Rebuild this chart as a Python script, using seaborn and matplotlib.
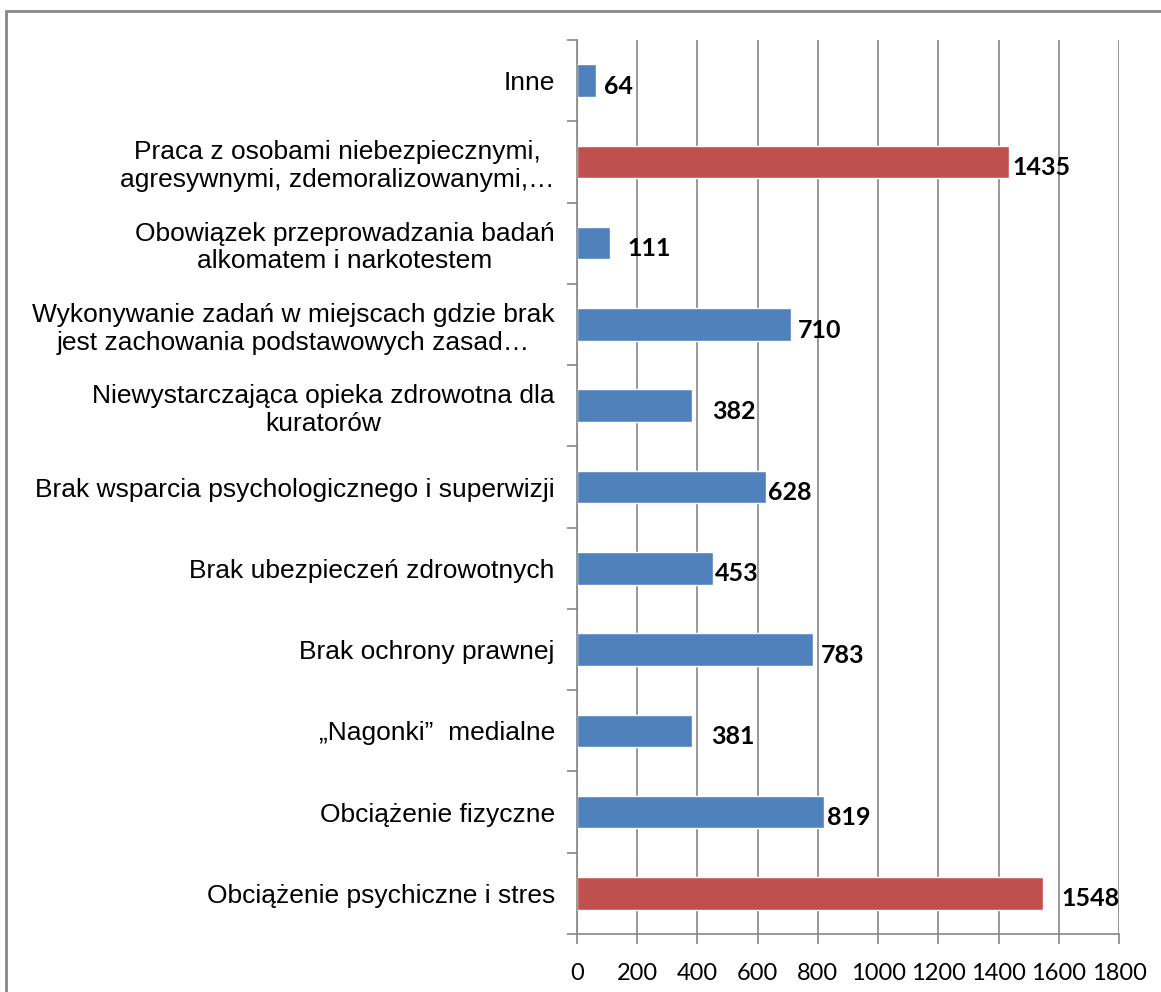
import matplotlib
matplotlib.use("Agg")
import matplotlib.pyplot as plt
import matplotlib.patches as mpatches
from matplotlib.ticker import MultipleLocator
import pandas as pd
import seaborn as sns

# dane (od gory do dolu)
kategorie = [
    "Inne",
    "Praca z osobami niebezpiecznymi,\nagresywnymi, zdemoralizowanymi,\u2026",
    "Obowiązek przeprowadzania badań\nalkomatem i narkotestem",
    "Wykonywanie zadań w miejscach gdzie brak\njest zachowania podstawowych zasad\u2026",
    "Niewystarczająca opieka zdrowotna dla\nkuratorów",
    "Brak wsparcia psychologicznego i superwizji",
    "Brak ubezpieczeń zdrowotnych",
    "Brak ochrony prawnej",
    "\u201eNagonki\u201d  medialne",
    "Obciążenie fizyczne",
    "Obciążenie psychiczne i stres",
]
wartosci = [64, 1435, 111, 710, 382, 628, 453, 783, 381, 819, 1548]
grupa = ["inne", "top", "inne", "inne", "inne", "inne", "inne", "inne", "inne", "inne", "top"]
x_ticks = [0, 200, 400, 600, 800, 1000, 1200, 1400, 1600, 1800]

# przesuniecia etykiet wartosci (px) - jak w oryginale z Excela
przesuniecia = [8, 3, 17, 7, 20, 2, 2, 8, 19, 3, 18]

df = pd.DataFrame({"kategoria": kategorie, "wartosc": wartosci, "grupa": grupa})
kolory = {"inne": "#4F81BD", "top": "#C0504D"}
szary = "#868686"

sns.set_theme(style="white")
plt.rcParams["font.family"] = ["Liberation Sans", "DejaVu Sans"]

fig = plt.figure(figsize=(11.61, 9.92), dpi=100)
ax = fig.add_axes([577 / 1161, 1 - 934 / 992, (1119 - 577) / 1161, (934 - 40) / 992])

sns.barplot(data=df, y="kategoria", x="wartosc", hue="grupa", palette=kolory,
            orient="h", width=0.4, dodge=False, legend=False, saturation=1, ax=ax)

ax.set_xlim(0, 1800)
ax.set_ylim(len(kategorie) - 0.5, -0.5)
ax.set_xlabel("")
ax.set_ylabel("")

# siatka pionowa
ax.set_xticks(x_ticks)
ax.set_xticklabels([str(t) for t in x_ticks], fontfamily="Lato", fontsize=17)
ax.grid(axis="x", color=szary, linewidth=1.2)
ax.set_axisbelow(True)

for s in ["top", "right"]:
    ax.spines[s].set_visible(False)
for s in ["left", "bottom"]:
    ax.spines[s].set_color(szary)
    ax.spines[s].set_linewidth(1.2)

ax.tick_params(axis="x", bottom=True, direction="out", length=7, color=szary,
               width=1.2, pad=14, labelcolor="black")
ax.tick_params(axis="y", which="major", left=True, length=0, pad=16, labelsize=19,
               labelcolor="black")
ax.yaxis.set_minor_locator(MultipleLocator(1, offset=0.5))
ax.tick_params(axis="y", which="minor", left=True, direction="out", length=7,
               color=szary, width=1.2)
for lab in ax.get_yticklabels():
    lab.set_multialignment("center")

# etykiety wartosci
for i, (v, dx) in enumerate(zip(wartosci, przesuniecia)):
    ax.annotate(str(v), xy=(v, i), xytext=(dx * 0.72, -4), textcoords="offset points",
                ha="left", va="center", fontfamily="Lato", fontweight="bold",
                fontsize=18, color="black")

# ramka wokol wykresu
ramka = mpatches.Rectangle((6 / 1161, -0.05), 1.2, 1 - 11 / 992 + 0.05,
                           transform=fig.transFigure, fill=False,
                           edgecolor=szary, linewidth=2, clip_on=False)
fig.patches.append(ramka)

fig.savefig("out.png", dpi=100)
